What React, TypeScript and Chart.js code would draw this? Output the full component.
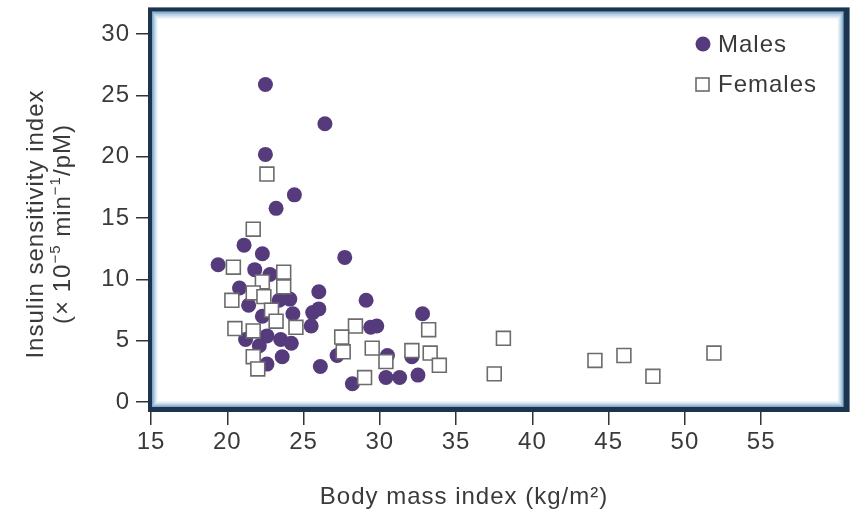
import { useEffect, useRef } from 'react';
import { Chart, registerables } from 'chart.js';

Chart.register(...registerables);

// Body mass index (kg/m²) and insulin sensitivity index for each subject
const maleBmi = [
  22.5, 26.4, 22.5, 24.4, 23.2, 21.1, 22.3, 19.4, 21.8, 22.8,
  27.7, 20.8, 26.0, 24.1, 23.4, 29.1, 21.4, 26.0, 24.3, 22.3,
  25.5, 29.4, 29.8, 32.8, 21.2, 22.6, 23.5, 24.2, 22.1, 23.6,
  22.6, 26.1, 27.2, 28.2, 30.5, 30.4, 31.3, 32.1, 32.5, 25.6,
];
const maleIsi = [
  25.9, 22.7, 20.2, 16.9, 15.8, 12.8, 12.1, 11.2, 10.8, 10.4,
  11.8, 9.3, 9.0, 8.4, 8.3, 8.3, 7.9, 7.6, 7.2, 7.0,
  6.2, 6.1, 6.2, 7.2, 5.1, 5.4, 5.1, 4.8, 4.6, 3.7,
  3.1, 2.9, 3.8, 1.5, 3.8, 2.0, 2.0, 3.7, 2.2, 7.3,
];
const femaleBmi = [
  22.6, 21.7, 20.4, 23.7, 22.3, 23.7, 21.7, 22.4, 20.3, 22.9,
  23.2, 24.5, 20.5, 21.7, 21.7, 22.0, 28.4, 27.5, 27.6, 29.5,
  29.0, 30.4, 32.1, 33.2, 33.3, 33.9, 38.1, 37.5, 44.1, 46.0,
  47.9, 51.9,
];
const femaleIsi = [
  18.6, 14.1, 11.0, 10.6, 9.8, 9.4, 8.9, 8.6, 8.3, 7.5,
  6.6, 6.1, 6.0, 5.8, 3.7, 2.7, 6.2, 5.3, 4.1, 4.4,
  2.0, 3.3, 4.2, 5.9, 4.0, 3.0, 5.2, 2.3, 3.4, 3.8,
  2.1, 4.0,
];

const xTickValues = [15, 20, 25, 30, 35, 40, 45, 50, 55];
const yTickValues = [0, 5, 10, 15, 20, 25, 30];

const seriesLabels = ['Males', 'Females'];
const xTitle = 'Body mass index (kg/m²)';
const yTitleLine1 = 'Insulin sensitivity index';
// second y title line, split into normal and superscript runs
const yTitleLine2: [string, boolean][] = [
  ['(× 10', false],
  ['−5', true],
  [' min', false],
  ['−1', true],
  ['/pM)', false],
];

const FONT = '"Liberation Sans", Arial, Helvetica, sans-serif';
const TEXT = '#3a3a3a';
const PURPLE = '#563b7c';
const SQUARE_EDGE = '#6b6b6b';
const SPACING = '1px';

// Slightly open letter spacing for every label on the canvas
const spacingPlugin = {
  id: 'letterSpacing',
  beforeUpdate(chart: any) {
    chart.ctx.letterSpacing = SPACING;
  },
  beforeDraw(chart: any) {
    chart.ctx.letterSpacing = SPACING;
  },
};

// Navy frame with a soft light-blue inner bevel around the plotting area
const framePlugin = {
  id: 'bevelFrame',
  beforeDatasetsDraw(chart: any) {
    const { ctx, chartArea: a } = chart;
    const L = a.left - 3;
    const T = a.top - 4;
    const R = a.right + 6;
    const B = a.bottom + 5;
    ctx.save();
    ctx.fillStyle = '#1b3450';
    ctx.fillRect(L, T, R - L, B - T);
    const bevel = ['#84a9c8', '#9dbdd7', '#b6cfe3', '#cddeec', '#e2ecf5', '#f2f7fb'];
    let l = L + 4, t = T + 4, r = R - 6, b = B - 5;
    for (const c of bevel) {
      ctx.fillStyle = c;
      ctx.fillRect(l, t, r - l, b - t);
      l += 1; t += 1.3; r -= 1; b -= 1;
    }
    ctx.fillStyle = '#ffffff';
    ctx.fillRect(l, t, r - l, b - t);
    ctx.restore();
  },
};

// Axis titles and the in-plot legend
const annotationPlugin = {
  id: 'titlesAndLegend',
  afterDraw(chart: any) {
    const { ctx } = chart;
    ctx.save();
    ctx.letterSpacing = SPACING;
    ctx.fillStyle = TEXT;
    ctx.textBaseline = 'middle';

    // x title
    ctx.font = `24px ${FONT}`;
    ctx.textAlign = 'center';
    ctx.fillText(xTitle, 464, 497);

    // y title, two rotated lines
    ctx.save();
    ctx.translate(36, 224);
    ctx.rotate(-Math.PI / 2);
    ctx.textAlign = 'center';
    ctx.fillText(yTitleLine1, 0, 0);
    ctx.restore();

    ctx.save();
    ctx.translate(63, 224);
    ctx.rotate(-Math.PI / 2);
    ctx.textAlign = 'left';
    const big = `24px ${FONT}`;
    const small = `15px ${FONT}`;
    let total = 0;
    for (const [t, sup] of yTitleLine2) {
      ctx.font = sup ? small : big;
      total += ctx.measureText(t).width;
    }
    let x = -total / 2;
    for (const [t, sup] of yTitleLine2) {
      ctx.font = sup ? small : big;
      ctx.fillText(t, x, sup ? -7 : 0);
      x += ctx.measureText(t).width;
    }
    ctx.restore();

    // legend
    ctx.font = `24px ${FONT}`;
    ctx.textAlign = 'left';
    ctx.fillStyle = PURPLE;
    ctx.beginPath();
    ctx.arc(703, 44, 7.5, 0, Math.PI * 2);
    ctx.fill();
    ctx.fillStyle = '#ffffff';
    ctx.strokeStyle = SQUARE_EDGE;
    ctx.lineWidth = 1.6;
    ctx.fillRect(696, 78, 13, 13);
    ctx.strokeRect(696, 78, 13, 13);
    ctx.fillStyle = TEXT;
    ctx.fillText(seriesLabels[0], 718, 45);
    ctx.fillText(seriesLabels[1], 718, 85);
    ctx.restore();
  },
};

export default function App() {
  const canvasRef = useRef<HTMLCanvasElement | null>(null);

  useEffect(() => {
    const canvas = canvasRef.current;
    if (!canvas) return;
    const males = maleBmi.map((v, i) => ({ x: v, y: maleIsi[i] }));
    const females = femaleBmi.map((v, i) => ({ x: v, y: femaleIsi[i] }));

    const chart = new Chart(canvas, {
      type: 'scatter',
      data: {
        datasets: [
          {
            label: seriesLabels[0],
            data: males,
            order: 1,
            pointStyle: 'circle',
            pointRadius: 7.5,
            pointBackgroundColor: PURPLE,
            pointBorderColor: PURPLE,
            pointBorderWidth: 0,
          },
          {
            label: seriesLabels[1],
            data: females,
            order: 0,
            pointStyle: 'rect',
            pointRadius: 9.8,
            pointBackgroundColor: '#ffffff',
            pointBorderColor: SQUARE_EDGE,
            pointBorderWidth: 1.6,
          },
        ],
      },
      options: {
        animation: false,
        responsive: false,
        events: [],
        layout: { padding: { left: 0, right: 9, top: 6, bottom: 0 } },
        plugins: {
          legend: { display: false },
          tooltip: { enabled: false },
        },
        scales: {
          x: {
            type: 'linear',
            min: 15,
            max: 60.4,
            afterBuildTicks: (s: any) => {
              s.ticks = xTickValues.map((v) => ({ value: v }));
            },
            afterFit: (s: any) => {
              s.height = 113;
              s.paddingLeft = 0;
              s.paddingRight = 0;
            },
            border: { display: false },
            grid: {
              drawOnChartArea: false,
              drawTicks: true,
              tickLength: 18,
              color: '#333333',
              lineWidth: 1.5,
            },
            ticks: {
              autoSkip: false,
              maxRotation: 0,
              padding: 3,
              color: TEXT,
              font: { family: FONT, size: 24 },
            },
          },
          y: {
            type: 'linear',
            min: -0.4,
            max: 31.86,
            afterBuildTicks: (s: any) => {
              s.ticks = yTickValues.map((v) => ({ value: v }));
            },
            afterFit: (s: any) => {
              s.width = 151;
              s.paddingTop = 0;
              s.paddingBottom = 0;
            },
            border: { display: false },
            grid: {
              drawOnChartArea: false,
              drawTicks: true,
              tickLength: 15,
              color: '#333333',
              lineWidth: 1.5,
            },
            ticks: {
              padding: 6,
              color: TEXT,
              font: { family: FONT, size: 24 },
            },
          },
        },
      },
      plugins: [spacingPlugin, framePlugin, annotationPlugin],
    });
    return () => chart.destroy();
  }, []);

  return (
    <div style={{ position: 'absolute', left: 0, top: 0, width: 855, height: 520, background: '#fff' }}>
      <canvas ref={canvasRef} width={855} height={520} style={{ display: 'block' }} />
    </div>
  );
}
